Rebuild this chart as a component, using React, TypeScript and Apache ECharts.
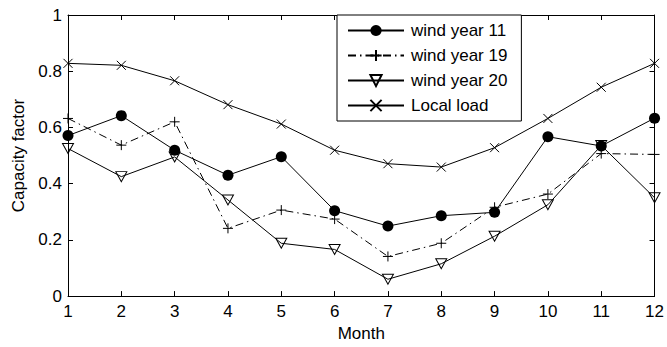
import React, { useEffect, useRef } from "react";
import * as echarts from "echarts";

const months = [1, 2, 3, 4, 5, 6, 7, 8, 9, 10, 11, 12];
const windYear11 = [0.571, 0.642, 0.519, 0.43, 0.496, 0.304, 0.249, 0.286, 0.298, 0.567, 0.534, 0.633];
const windYear19 = [0.632, 0.537, 0.62, 0.241, 0.306, 0.274, 0.141, 0.188, 0.316, 0.363, 0.507, 0.504];
const windYear20 = [0.525, 0.425, 0.495, 0.342, 0.188, 0.166, 0.06, 0.115, 0.213, 0.325, 0.536, 0.35];
const localLoad = [0.828, 0.821, 0.766, 0.681, 0.612, 0.519, 0.471, 0.459, 0.528, 0.632, 0.743, 0.828];
const seriesNames = ["wind year 11", "wind year 19", "wind year 20", "Local load"];

const FONT = "Liberation Sans, Arial, Helvetica, sans-serif";

const pair = (vals: number[]) => months.map((m, i) => [m, vals[i]]);

export default function App() {
  const ref = useRef<HTMLDivElement>(null);
  useEffect(() => {
    if (!ref.current) return;
    const chart = echarts.init(ref.current, undefined, { renderer: "svg" });
    const axisCommon = {
      axisLine: { show: true, onZero: false, lineStyle: { color: "#000", width: 1 } },
      axisTick: { show: true, inside: true, length: 5, lineStyle: { color: "#000", width: 1 } },
      splitLine: { show: false },
    };
    const labelStyle = { color: "#000", fontSize: 17, fontFamily: FONT };
    chart.setOption({
      animation: false,
      backgroundColor: "#fff",
      grid: { left: 68, right: 12, top: 15, bottom: 49, containLabel: false },
      xAxis: [
        {
          type: "value",
          min: 1,
          max: 12,
          interval: 1,
          position: "bottom",
          name: "Month",
          nameLocation: "middle",
          nameGap: 28,
          nameTextStyle: { color: "#000", fontSize: 17, fontFamily: FONT },
          axisLabel: { ...labelStyle, margin: 7 },
          ...axisCommon,
        },
        {
          type: "value",
          min: 1,
          max: 12,
          interval: 1,
          position: "top",
          axisLabel: { show: false },
          ...axisCommon,
        },
      ],
      yAxis: [
        {
          type: "value",
          min: 0,
          max: 1,
          interval: 0.2,
          position: "left",
          name: "Capacity factor",
          nameLocation: "middle",
          nameGap: 40,
          nameTextStyle: { color: "#000", fontSize: 17, fontFamily: FONT },
          axisLabel: { ...labelStyle, margin: 6, formatter: (v: number) => String(Math.round(v * 10) / 10) },
          ...axisCommon,
        },
        {
          type: "value",
          min: 0,
          max: 1,
          interval: 0.2,
          position: "right",
          axisLabel: { show: false },
          ...axisCommon,
        },
      ],
      legend: {
        show: true,
        data: seriesNames,
        orient: "vertical",
        left: 337,
        top: 15,
        backgroundColor: "#fff",
        borderColor: "#000",
        borderWidth: 1,
        borderRadius: 0,
        padding: [7, 14, 7, 10],
        itemGap: 8,
        itemWidth: 56,
        itemHeight: 14,
        textStyle: { color: "#000", fontSize: 17, fontFamily: FONT, lineHeight: 17, padding: [0, 0, 0, 2] },
      },
      series: [
        {
          name: "wind year 11",
          type: "line",
          data: pair(windYear11),
          symbol: "circle",
          symbolSize: 11,
          itemStyle: { color: "#000" },
          lineStyle: { color: "#000", width: 1, type: "solid" },
          z: 4,
        },
        {
          name: "wind year 19",
          type: "line",
          data: pair(windYear19),
          symbol: "path://M5,0L5,10M0,5L10,5",
          symbolSize: 10,
          itemStyle: { color: "none", borderColor: "#000", borderWidth: 1 },
          lineStyle: { color: "#000", width: 1, type: [8, 4, 1.5, 4] },
          z: 3,
        },
        {
          name: "wind year 20",
          type: "line",
          data: pair(windYear20),
          symbol: "path://M0,0L10,0L5,9Z",
          symbolSize: [11, 10],
          itemStyle: { color: "none", borderColor: "#000", borderWidth: 1 },
          lineStyle: { color: "#000", width: 1, type: "solid" },
          z: 3,
        },
        {
          name: "Local load",
          type: "line",
          data: pair(localLoad),
          symbol: "path://M0,0L10,10M10,0L0,10",
          symbolSize: 9,
          itemStyle: { color: "none", borderColor: "#000", borderWidth: 1 },
          lineStyle: { color: "#000", width: 1, type: "solid" },
          z: 3,
        },
      ],
    });
    return () => chart.dispose();
  }, []);
  return <div ref={ref} style={{ width: 667, height: 347, position: "fixed", left: 0, top: 0 }} />;
}
